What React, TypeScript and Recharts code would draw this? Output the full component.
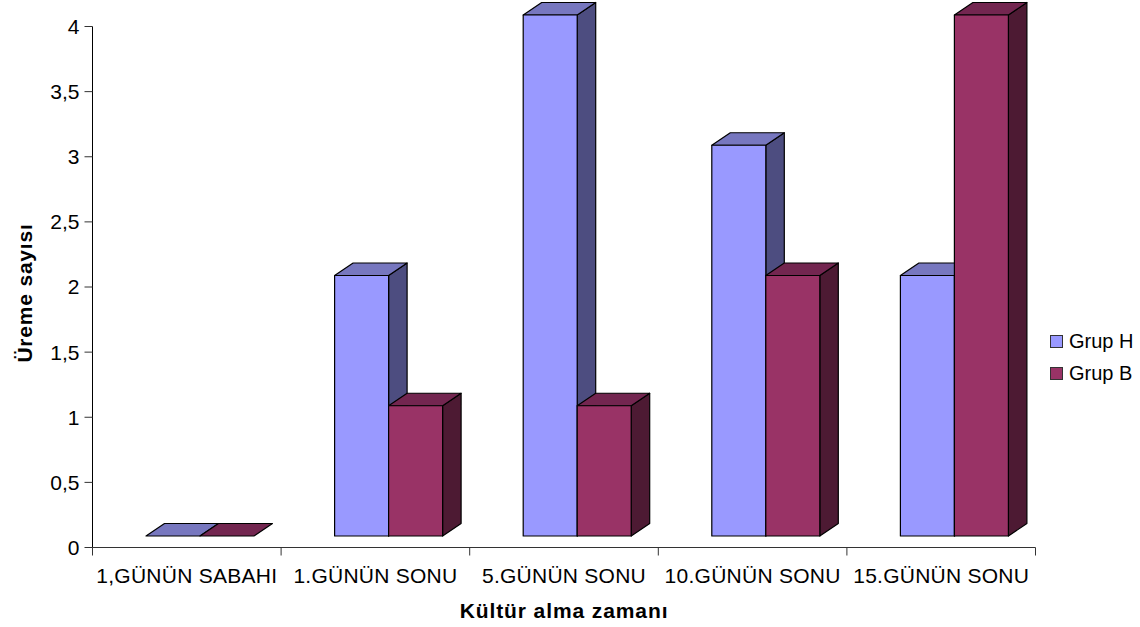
import React from "react";
import { BarChart, Bar, XAxis, YAxis, Legend } from "recharts";

const categories = ["1,GÜNÜN SABAHI", "1.GÜNÜN SONU", "5.GÜNÜN SONU", "10.GÜNÜN SONU", "15.GÜNÜN SONU"];
const grupH = [0, 2, 4, 3, 2];
const grupB = [0, 1, 1, 2, 4];
const yTicks = [0, 0.5, 1, 1.5, 2, 2.5, 3, 3.5, 4];

const rows = categories.map((name, i) => ({ name, grupH: grupH[i], grupB: grupB[i] }));

const FONT = "'Liberation Sans', Arial, sans-serif";
const SHIFT_X = 13.5; // front face sits right of and above the axis plane
const SHIFT_Y = -11.5;
const DEPTH_X = 18.5;
const DEPTH_Y = -12.5;

const Box = ({ x, y, width, height, front, top, side }: any) => {
  const l = x + SHIFT_X;
  const r = l + width;
  const t = y + SHIFT_Y;
  const b = t + height;
  const poly = (pts: number[][]) => pts.map((p) => p.join(",")).join(" ");
  const common = { stroke: "#000", strokeWidth: 1.2, strokeLinejoin: "round" as const };
  return (
    <g>
      {height > 0 && <polygon points={poly([[r, t], [r + DEPTH_X, t + DEPTH_Y], [r + DEPTH_X, b + DEPTH_Y], [r, b]])} fill={side} {...common} />}
      <polygon points={poly([[l, t], [l + DEPTH_X, t + DEPTH_Y], [r + DEPTH_X, t + DEPTH_Y], [r, t]])} fill={top} {...common} />
      {height > 0 && <rect x={l} y={t} width={width} height={height} fill={front} {...common} />}
    </g>
  );
};

const CategoryTick = ({ x, y, index, payload, width, visibleTicksCount }: any) => {
  const half = width / visibleTicksCount / 2;
  return (
    <g>
      <line x1={x - half} x2={x - half} y1={y} y2={y + 8} stroke="#333" />
      {index === visibleTicksCount - 1 && <line x1={x + half} x2={x + half} y1={y} y2={y + 8} stroke="#333" />}
      <text x={x} y={y + 35} textAnchor="middle" fontFamily={FONT} fontSize={21} letterSpacing={0.25} fill="#000">
        {payload.value}
      </text>
    </g>
  );
};

const SeriesKey = ({ payload }: any) => (
  <div style={{ fontFamily: FONT, fontSize: 20, color: "#000" }}>
    {(payload || []).map((entry: any) => (
      <div key={entry.value} style={{ display: "flex", alignItems: "center", height: 32 }}>
        <span style={{ width: 11, height: 11, background: entry.color, border: "1px solid #333", marginRight: 6, boxSizing: "content-box" }} />
        {entry.value}
      </div>
    ))}
  </div>
);

export default function App() {
  return (
    <div style={{ position: "absolute", left: 0, top: 0 }}>
      <BarChart
        width={1140}
        height={627}
        data={rows}
        margin={{ top: 26.5, right: 14.5, bottom: 0, left: 0.5 }}
        barCategoryGap={40}
        barGap={0}
      >
        <YAxis
          width={92}
          domain={[0, 4]}
          ticks={yTicks}
          interval={0}
          tickFormatter={(v: number) => String(v).replace(".", ",")}
          tick={{ fill: "#000", fontSize: 21, fontFamily: FONT }}
          tickSize={8}
          tickMargin={5}
          axisLine={{ stroke: "#000" }}
          tickLine={{ stroke: "#333" }}
          label={{
            value: "Üreme sayısı",
            angle: -90,
            position: "insideLeft",
            dx: 19,
            dy: 6,
            style: { fontFamily: FONT, fontSize: 21, fontWeight: 700, fill: "#000", textAnchor: "middle", letterSpacing: 0.8 },
          }}
        />
        <XAxis
          dataKey="name"
          height={79.5}
          interval={0}
          tickSize={0}
          tickMargin={0}
          tickLine={false}
          tick={<CategoryTick />}
          axisLine={{ stroke: "#333" }}
          label={{
            value: "Kültür alma zamanı",
            position: "insideBottom",
            dx: 0,
            dy: -4,
            style: { fontFamily: FONT, fontSize: 21, fontWeight: 700, fill: "#000", letterSpacing: 0.9 },
          }}
        />
        <Legend
          content={<SeriesKey />}
          layout="vertical"
          align="right"
          verticalAlign="top"
          itemSorter={null}
          wrapperStyle={{ left: 1050, top: 325, width: 90 }}
        />
        <Bar
          dataKey="grupH"
          name="Grup H"
          fill="#9999FF"
          isAnimationActive={false}
          shape={(p: any) => <Box {...p} front="#9999FF" top="#7777BF" side="#4D4D80" />}
        />
        <Bar
          dataKey="grupB"
          name="Grup B"
          fill="#993366"
          isAnimationActive={false}
          shape={(p: any) => <Box {...p} front="#993366" top="#732650" side="#4D1A33" />}
        />
      </BarChart>
    </div>
  );
}
